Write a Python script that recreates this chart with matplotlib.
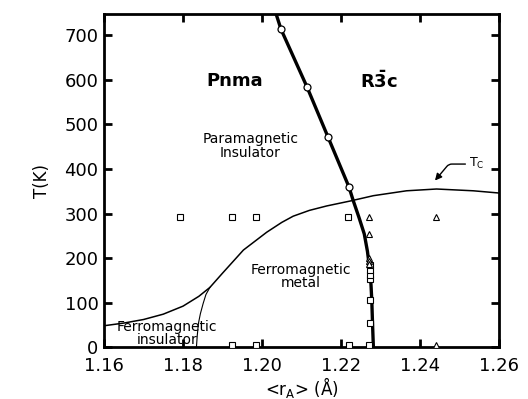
import matplotlib
matplotlib.use("Agg")
import matplotlib.pyplot as plt

# Structural phase boundary (Pnma / R-3c), thick line
bound_r = [1.2035, 1.2048, 1.2114, 1.2167, 1.2220, 1.2231, 1.2246, 1.2259, 1.2267, 1.2272, 1.2276, 1.2278, 1.2280, 1.2282]
bound_T = [750, 714, 584, 472, 360, 329, 290, 254, 215, 180, 140, 105, 50, 0]
# measured points on the boundary (open circles)
circ_r = [1.2048, 1.2114, 1.2167, 1.2220]
circ_T = [714, 584, 472, 360]

# Tc curve
tc_r = [1.160, 1.165, 1.170, 1.175, 1.180, 1.184, 1.1868, 1.190, 1.1953, 1.2012, 1.205, 1.2079, 1.212, 1.2164, 1.2223, 1.2282, 1.2366, 1.2442, 1.2535, 1.2600]
tc_T = [48, 54, 62, 74, 92, 114, 134, 166, 218, 258, 280, 294, 307, 317, 328, 340, 351, 355, 351, 346]

# FM insulator / FM metal boundary
fi_r = [1.1868, 1.1858, 1.1851, 1.1844, 1.1839, 1.1836, 1.1834]
fi_T = [134, 118, 98, 75, 53, 25, 0]

# squares
sq_r = [1.1792, 1.1924, 1.1985, 1.2218, 1.1924, 1.1985, 1.2220, 1.2272, 1.2273, 1.2273, 1.2273, 1.2273, 1.2273, 1.2273]
sq_T = [293, 293, 293, 293, 5, 5, 5, 5, 54, 105, 152, 163, 174, 184]
# triangles
tr_r = [1.2271, 1.2441, 1.2441, 1.2270, 1.2270, 1.2270, 1.2270]
tr_T = [293, 293, 5, 253, 201, 194, 187]

xticks = [1.16, 1.18, 1.20, 1.22, 1.24, 1.26]
yticks = [0, 100, 200, 300, 400, 500, 600, 700]

fig = plt.figure(figsize=(5.28, 3.99), dpi=100)
ax = fig.add_axes([0.197, 0.130, 0.748, 0.835])

ax.plot(tc_r, tc_T, color='black', lw=1.1)
ax.plot(fi_r, fi_T, color='black', lw=0.8)
ax.plot(bound_r, bound_T, color='black', lw=2.4, zorder=3)
ax.plot(circ_r, circ_T, 'o', ms=5, mfc='white', mec='black', mew=0.9, zorder=4)
ax.plot(sq_r, sq_T, 's', ms=5, mfc='white', mec='black', mew=0.8, zorder=4)
ax.plot(tr_r, tr_T, '^', ms=5, mfc='white', mec='black', mew=0.8, zorder=4)

ax.set_xlim(1.16, 1.26)
ax.set_ylim(0, 748)
ax.set_xticks(xticks)
ax.set_xticklabels([f"{v:.2f}" for v in xticks])
ax.set_yticks(yticks)
ax.tick_params(direction='in', length=6, width=2, labelsize=13, top=True, right=True, pad=4)
ax.tick_params(axis='x', pad=7)
for s in ax.spines.values():
    s.set_linewidth(2)

ax.set_xlabel('<r$_\\mathregular{A}$> (Å)', fontsize=12, labelpad=0)
ax.set_ylabel('T(K)', fontsize=12, labelpad=10)

ax.text(1.1932, 597, 'Pnma', fontsize=13, fontweight='bold', ha='center', va='center')
ax.text(1.2296, 597, r'$\mathbf{R\bar{3}c}$', fontsize=13, ha='center', va='center')
ax.text(1.197, 452, 'Paramagnetic\nInsulator', fontsize=10, ha='center', va='center', linespacing=0.95)
ax.text(1.2099, 159, 'Ferromagnetic\nmetal', fontsize=10, ha='center', va='center', linespacing=0.95)
ax.text(1.176, 30, 'Ferromagnetic\ninsulator', fontsize=10, ha='center', va='center', linespacing=0.95)
ax.text(1.2525, 412, 'T$_\\mathregular{C}$', fontsize=9, ha='left', va='center')
ax.annotate('', xy=(1.2438, 374), xytext=(1.2515, 411),
            arrowprops=dict(arrowstyle='-|>', color='black', lw=1.0, mutation_scale=10,
                            connectionstyle='angle,angleA=0,angleB=50,rad=3', shrinkA=0, shrinkB=0))

fig.savefig('out.png', dpi=100)
